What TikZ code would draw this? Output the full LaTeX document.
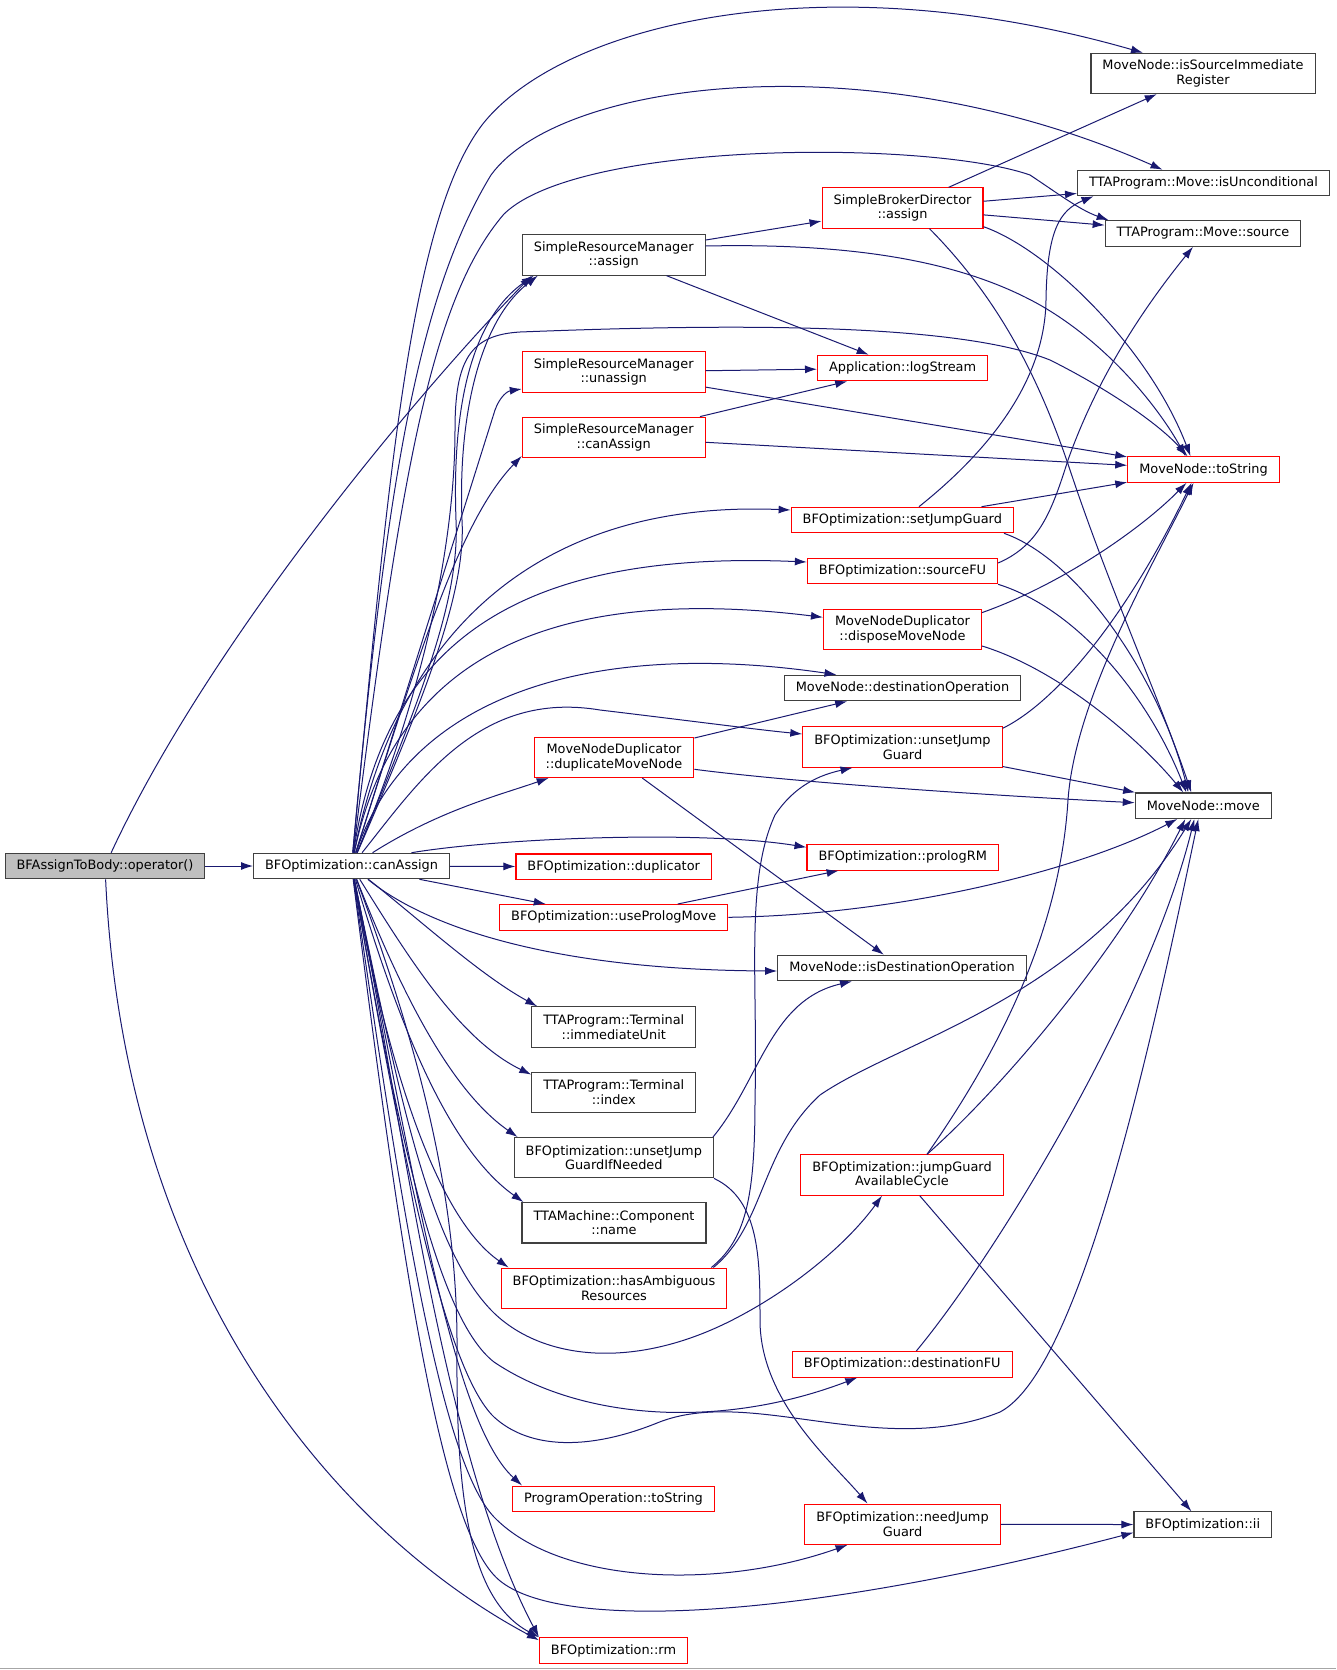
\documentclass[tikz,border=0pt]{standalone}
\usepackage{fontspec}
\setmainfont{DejaVu Sans}
\usetikzlibrary{arrows.meta}
\definecolor{edgeblue}{HTML}{191970}
\definecolor{boxgray}{HTML}{404040}
\definecolor{rootfill}{HTML}{BFBFBF}

\begin{document}
\begin{tikzpicture}[x=1pt, y=-1pt,
  fnbox/.style={draw=boxgray, line width=1.1pt, fill=white, align=center,
    inner xsep=11.5pt, inner ysep=1pt, minimum height=25.5pt,
    font=\fontsize{12.9}{14.5}\selectfont},
  trunc/.style={draw=red},
  root/.style={fill=rootfill},
  two/.style={minimum height=40.3pt}]

\useasboundingbox (0,0) rectangle (1336,1670);

\begin{scope}[every node/.style={fnbox}]
    \node[root] (op) at (105,866) {BFAssignToBody::operator()};
    \node (ca) at (351.5,866) {BFOptimization::canAssign};
    \node[two] (isr) at (1203,73.5) {MoveNode::isSourceImmediate\\Register};
    \node (isu) at (1203.5,183) {TTAProgram::Move::isUnconditional};
    \node (src) at (1203,233.5) {TTAProgram::Move::source};
    \node[two, trunc] (sbd) at (902.5,208) {SimpleBrokerDirector\\::assign};
    \node[two] (srma) at (613.7,255) {SimpleResourceManager\\::assign};
    \node[two, trunc] (srmu) at (613.7,372) {SimpleResourceManager\\::unassign};
    \node[trunc] (log) at (902.6,368) {Application::logStream};
    \node[two, trunc] (srmc) at (613.7,437.3) {SimpleResourceManager\\::canAssign};
    \node[trunc] (tos) at (1203.5,469.5) {MoveNode::toString};
    \node[trunc] (sjg) at (902.3,520) {BFOptimization::setJumpGuard};
    \node[trunc] (sfu) at (902.5,571) {BFOptimization::sourceFU};
    \node[two, trunc] (dmn) at (902.5,629.3) {MoveNodeDuplicator\\::disposeMoveNode};
    \node (dop) at (902.5,688) {MoveNode::destinationOperation};
    \node[two, trunc] (dup) at (614,757.3) {MoveNodeDuplicator\\::duplicateMoveNode};
    \node[two, trunc] (ujg) at (902.5,747) {BFOptimization::unsetJump\\Guard};
    \node (mov) at (1203.3,805.7) {MoveNode::move};
    \node[trunc] (prm) at (902.7,857.3) {BFOptimization::prologRM};
    \node[trunc] (dpl) at (613.7,866.7) {BFOptimization::duplicator};
    \node[trunc] (upm) at (613.7,917.3) {BFOptimization::usePrologMove};
    \node (ido) at (902,968) {MoveNode::isDestinationOperation};
    \node[two] (imu) at (613.8,1027) {TTAProgram::Terminal\\::immediateUnit};
    \node[two] (idx) at (613.8,1092.3) {TTAProgram::Terminal\\::index};
    \node[two] (ujn) at (613.8,1157.7) {BFOptimization::unsetJump\\GuardIfNeeded};
    \node[two, trunc] (jac) at (902,1175) {BFOptimization::jumpGuard\\AvailableCycle};
    \node[two] (nam) at (614,1222.8) {TTAMachine::Component\\::name};
    \node[two, trunc] (ham) at (614,1288.2) {BFOptimization::hasAmbiguous\\Resources};
    \node[trunc] (dfu) at (902.3,1364.3) {BFOptimization::destinationFU};
    \node[trunc] (pot) at (613.5,1498.8) {ProgramOperation::toString};
    \node[two, trunc] (njg) at (902.5,1524.2) {BFOptimization::needJump\\Guard};
    \node (ii) at (1202.8,1524.6) {BFOptimization::ii};
    \node[trunc] (rm) at (613.5,1650.5) {BFOptimization::rm};
\end{scope}

\begin{scope}[-{Latex[length=12pt,width=8pt]}, line width=1pt, edgeblue]
    % operator()
    \draw (op) -- (ca);
    \draw (op) .. controls (210,640) and (420,390) .. ([xshift=10pt]srma.south west);
    \draw (op) .. controls (125,1300) and (350,1540) .. ([yshift=-3pt]rm.north west);
    % canAssign, upper half
    \draw (ca) .. controls (388,480) and (410,220) .. (482,125) .. controls (560,25) and (820,-40) .. ([xshift=-60pt]isr.north);
    \draw (ca) .. controls (385,500) and (415,300) .. (491,175) .. controls (560,80) and (870,40) .. ([xshift=-41pt]isu.north);
    \draw (ca) .. controls (400,480) and (430,300) .. (504,214) .. controls (580,140) and (930,140) .. (1030,175) .. controls (1060,195) and (1080,210) .. ([xshift=4pt]src.north west);
    \draw (ca) .. controls (420,700) and (460,600) .. (456,520) .. controls (452,410) and (470,320) .. ([xshift=12pt]srma.south west);
    \draw (ca) .. controls (428,690) and (466,590) .. (462,520) .. controls (458,420) and (478,322) .. ([xshift=16pt]srma.south west);
    \draw (ca) .. controls (425,690) and (455,540) .. (455,430) .. controls (455,360) and (470,335) .. (520,332) .. controls (700,325) and (950,320) .. (1050,360) .. controls (1110,390) and (1160,425) .. ([xshift=-16pt]tos.north);
    \draw (ca) -- (495,410) .. controls (500,396) and (508,391) .. ([yshift=-17pt]srmu.west);
    \draw (ca) .. controls (420,650) and (460,520) .. ([yshift=2pt]srmc.south west);
    \draw (ca) .. controls (400,620) and (550,500) .. ([yshift=10pt]sjg.west);
    \draw (ca) .. controls (385,640) and (520,550) .. ([yshift=9pt]sfu.west);
    \draw (ca) .. controls (390,680) and (520,580) .. ([yshift=12pt]dmn.west);
    \draw (ca) .. controls (410,690) and (600,640) .. ([xshift=-66pt]dop.north);
    \draw (ca) .. controls (420,780) and (480,690) .. (600,710) .. controls (700,722) and (760,730) .. ([yshift=13pt]ujg.west);
    \draw (ca) .. controls (440,810) and (500,795) .. ([xshift=15pt]dup.south west);
    \draw ([xshift=60pt]ca.north) .. controls (500,838) and (700,830) .. ([yshift=10pt]prm.west);
    \draw (ca) -- (dpl);
    \draw (ca) -- (upm);
    % canAssign, lower half
    \draw (ca) .. controls (430,930) and (560,970) .. ([yshift=-3pt]ido.west);
    \draw (ca) .. controls (420,920) and (480,975) .. ([xshift=6pt]imu.north west);
    \draw (ca) .. controls (410,960) and (460,1040) .. ([yshift=-3pt]idx.north west);
    \draw (ca) .. controls (400,990) and (450,1090) .. ([xshift=4pt]ujn.north west);
    \draw (ca) .. controls (400,1030) and (450,1150) .. ([xshift=2pt]nam.north west);
    \draw (ca) .. controls (390,1080) and (440,1220) .. ([xshift=8pt]ham.north west);
    \draw (ca) .. controls (400,1100) and (430,1250) .. (494,1313) .. controls (545,1362) and (640,1370) .. (740,1316) .. controls (800,1284) and (850,1240) .. ([xshift=-20pt]jac.south);
    \draw (ca) .. controls (400,1150) and (440,1320) .. (494,1362) .. controls (580,1420) and (720,1430) .. ([xshift=-45pt]dfu.south);
    \draw (ca) .. controls (400,1150) and (445,1370) .. (494,1417) .. controls (530,1450) and (590,1450) .. (657,1423) .. controls (750,1385) and (880,1460) .. (1000,1412) .. controls (1080,1370) and (1150,1050) .. ([xshift=-5pt]mov.south);
    \draw (ca) .. controls (410,1150) and (450,1420) .. ([xshift=10pt]pot.north west);
    \draw (ca) .. controls (400,1200) and (440,1460) .. (494,1517) .. controls (560,1585) and (720,1590) .. ([xshift=-55pt]njg.south);
    \draw (ca) .. controls (400,1250) and (440,1530) .. (499,1580) .. controls (560,1632) and (800,1620) .. ([yshift=-8pt]ii.west);
    \draw (ca) .. controls (400,1100) and (440,1450) .. (rm.north west);
    \draw (ca) .. controls (420,1050) and (458,1200) .. (457,1350) .. controls (456,1500) and (470,1600) .. (rm.north west);
    % second column
    \draw (sbd) -- (isr);
    \draw (sbd) -- (isu);
    \draw (sbd) -- (src);
    \draw ([yshift=2pt]sbd.south east) .. controls (1050,250) and (1150,350) .. ([xshift=-13pt]tos.north);
    \draw ([xshift=27pt]sbd.south) .. controls (1000,300) and (1040,380) .. (1070,470) .. controls (1110,590) and (1160,700) .. ([xshift=-12pt]mov.north);
    \draw (srma) -- (sbd);
    \draw (srma) -- (log);
    \draw ([yshift=9pt]srma.east) .. controls (850,243) and (960,260) .. (1040,305) .. controls (1110,345) and (1160,410) .. ([xshift=-18pt]tos.north);
    \draw (srmu) -- (log);
    \draw (srmu) -- (tos);
    \draw (srmc) -- (log);
    \draw (srmc) -- (tos);
    \draw (sjg) .. controls (990,450) and (1045,380) .. (1046,300) .. controls (1047,230) and (1060,210) .. ([xshift=-110pt]isu.south);
    \draw (sjg) -- (tos);
    \draw ([xshift=-10pt]sjg.south east) .. controls (1080,560) and (1160,680) .. ([xshift=-15pt]mov.north);
    \draw ([yshift=8pt]sfu.east) .. controls (1040,545) and (1052,510) .. (1068,460) .. controls (1100,370) and (1150,300) .. ([xshift=-10pt]src.south);
    \draw (sfu.south east) .. controls (1080,610) and (1150,700) .. ([xshift=-17pt]mov.north);
    \draw ([yshift=-4pt]dmn.north east) .. controls (1060,585) and (1140,530) .. ([xshift=-17pt]tos.south);
    \draw ([yshift=4pt]dmn.south east) .. controls (1060,670) and (1140,740) .. ([xshift=-20pt]mov.north);
    \draw (dup) -- (dop);
    \draw ([yshift=-12pt]dup.east) .. controls (800,783) and (1000,796) .. ([yshift=3pt]mov.west);
    \draw (dup) -- (ido);
    \draw ([yshift=-2pt]ujg.north east) .. controls (1060,700) and (1130,610) .. ([xshift=-12pt]tos.south);
    \draw (ujg) -- (mov);
    \draw (upm) -- (prm);
    \draw (upm.east) .. controls (900,915) and (1080,870) .. ([xshift=-26pt]mov.south);
    \draw ([xshift=-1pt]ujn.north east) .. controls (760,1080) and (770,1000) .. ([xshift=-50pt]ido.south);
    \draw (ujn.south east) .. controls (760,1200) and (760,1260) .. (760,1320) .. controls (760,1400) and (830,1460) .. ([xshift=-35pt]njg.north);
    \draw ([xshift=-16pt]ham.north east) .. controls (745,1240) and (755,1200) .. (755,1100) .. controls (758,980) and (745,880) .. (775,815) .. controls (795,785) and (820,775) .. ([xshift=-50pt]ujg.south);
    \draw ([xshift=-14pt]ham.north east) .. controls (765,1225) and (760,1150) .. (820,1095) .. controls (900,1040) and (1080,1000) .. ([xshift=-12pt]mov.south);
    \draw ([xshift=25pt]jac.north) .. controls (1000,1050) and (1060,930) .. (1068,800) .. controls (1075,700) and (1150,570) .. ([xshift=-10pt]tos.south);
    \draw ([xshift=25pt]jac.north) .. controls (1000,1090) and (1120,950) .. ([xshift=-18pt]mov.south);
    \draw (jac) -- (ii);
    \draw ([xshift=14pt]dfu.north) .. controls (1000,1250) and (1150,1000) .. ([xshift=-9pt]mov.south);
    \draw (njg) -- (ii);
\end{scope}

\draw[gray!70, line width=1.5pt] (0,1668.5) -- (1336,1668.5);

\end{tikzpicture}
\end{document}
